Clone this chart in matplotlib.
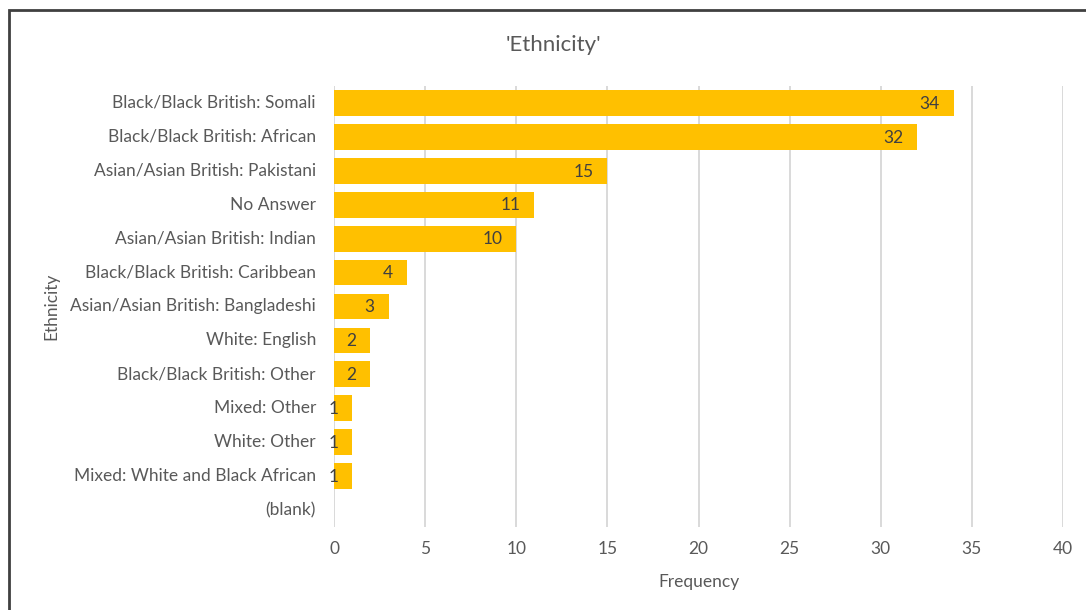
import matplotlib.pyplot as plt
from matplotlib.patches import Rectangle

categories = [
    "Black/Black British: Somali",
    "Black/Black British: African",
    "Asian/Asian British: Pakistani",
    "No Answer",
    "Asian/Asian British: Indian",
    "Black/Black British: Caribbean",
    "Asian/Asian British: Bangladeshi",
    "White: English",
    "Black/Black British: Other",
    "Mixed: Other",
    "White: Other",
    "Mixed: White and Black African",
    "(blank)",
]
values = [34, 32, 15, 11, 10, 4, 3, 2, 2, 1, 1, 1, None]
x_ticks = [0, 5, 10, 15, 20, 25, 30, 35, 40]

plt.rcParams['font.family'] = ['Lato', 'DejaVu Sans']

W, H = 1086, 610
fig = plt.figure(figsize=(W / 100, H / 100), dpi=100)
ax = fig.add_axes([334 / W, 1 - 527 / H, (1063 - 334) / W, (527 - 86) / H])

n = len(categories)
ypos = list(range(n))
bar_vals = [v if v is not None else 0 for v in values]
ax.barh(ypos, bar_vals, height=0.76, color='#FFC000', zorder=3)

for y, v in zip(ypos, values):
    if v is None:
        continue
    ax.annotate(str(v), xy=(v, y), xytext=(-10, -0.5), textcoords='offset points',
                ha='right', va='center', fontsize=12.5, color='#404040', zorder=4)

ax.set_ylim(n - 0.5, -0.5)
ax.set_xlim(0, 40)
ax.set_xticks(x_ticks)
ax.set_yticks(ypos)
ax.set_yticklabels(categories, va='center')
ax.tick_params(axis='both', length=0, labelsize=12.5, colors='#595959')
ax.tick_params(axis='y', pad=13)
ax.tick_params(axis='x', pad=10)
ax.grid(axis='x', color='#D9D9D9', linewidth=1.4, zorder=0)
for s in ax.spines.values():
    s.set_visible(False)

ax.set_xlabel('Frequency', fontsize=12.5, color='#595959', labelpad=12)
fig.text(51 / W, 1 - 306 / H, 'Ethnicity', rotation=90, ha='center', va='center',
         fontsize=12.5, color='#595959')
fig.text(553 / W, 1 - 45 / H, "'Ethnicity'", ha='center', va='center',
         fontsize=16, color='#595959')

fig.patches.append(Rectangle((9 / W, -0.1), 1.2, 1 - 10 / H + 0.1,
                             transform=fig.transFigure, fill=False,
                             edgecolor='#404040', linewidth=2))

fig.savefig('out.png', dpi=100, facecolor='white')
